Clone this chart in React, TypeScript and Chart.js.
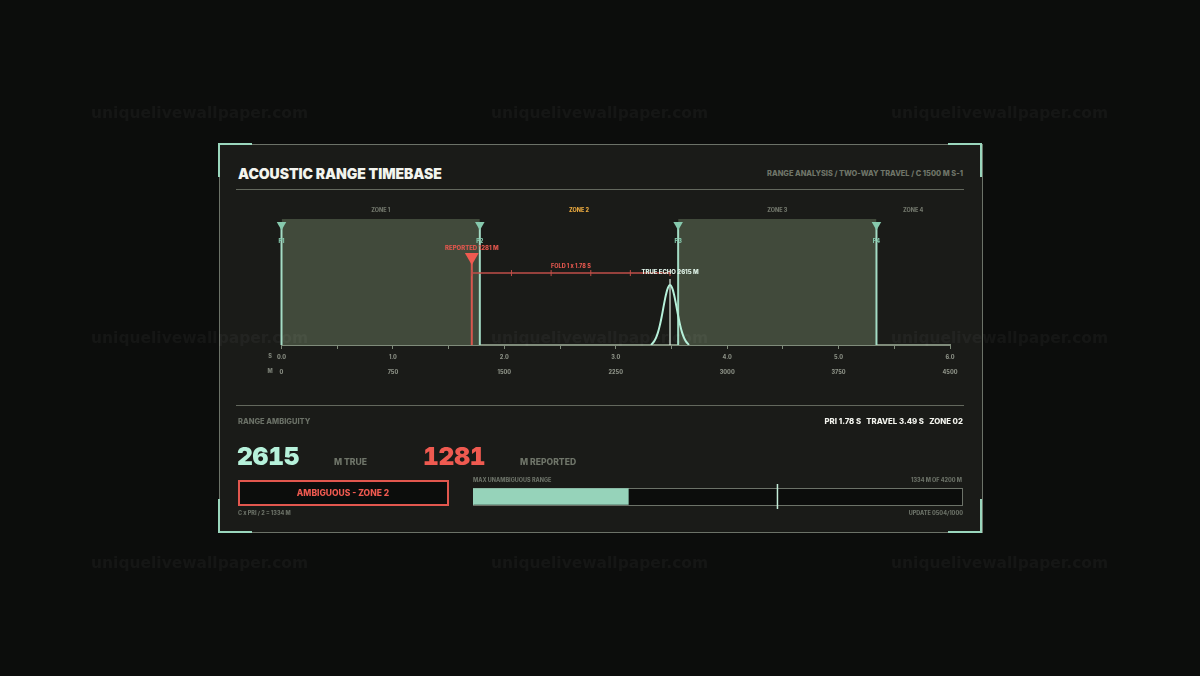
import { CSSProperties, FC, useEffect, useRef } from 'react'
import { Chart, registerables } from 'chart.js'

Chart.register(...registerables)

// seconds on the timebase
const priMarks = [0, 1.78, 3.56, 5.34]
const priLabels = ['P1', 'P2', 'P3', 'P4']
const zoneLabels = ['ZONE 1', 'ZONE 2', 'ZONE 3', 'ZONE 4']
const zoneEdges = [0, 1.78, 3.56, 5.34, 6]
const shadedZone1 = [0, 1.78]
const shadedZone3 = [3.56, 5.34]
const tickSeconds = ['0.0', '1.0', '2.0', '3.0', '4.0', '5.0', '6.0']
const tickMetres = ['0', '750', '1500', '2250', '3000', '3750', '4500']
const reportedTime = 1.708
const trueTime = 3.487
const foldTimes = [1.708, 2.064, 2.42, 2.776, 3.131, 3.487]
const echoTimes = [3.317, 3.344, 3.361, 3.379, 3.397, 3.415, 3.433, 3.451, 3.469, 3.487, 3.505, 3.523, 3.541, 3.559, 3.577, 3.595, 3.613, 3.63, 3.657]
const echoLevels = [0, 0.029, 0.057, 0.1, 0.161, 0.237, 0.322, 0.4, 0.456, 0.476, 0.456, 0.4, 0.322, 0.237, 0.161, 0.1, 0.057, 0.029, 0]

// range meter, metres
const unambiguousRange = 1334
const meterMax = 4200
const trueRange = 2615

const watermarkX = [91, 491, 891]
const watermarkY = [102, 327, 552]

const TEAL = '#9ad6bd'
const MINT = '#b6f1da'
const RED = '#ef5a50'
const FONT = 'Inter, "Noto Sans", sans-serif'

const xy = (xs: number[], ys: number[]) => xs.map((x, i) => ({ x, y: ys[i] }))

const annotations = {
  id: 'annotations',
  afterDatasetsDraw(chart: Chart) {
    const { ctx, scales } = chart
    const x = scales.x
    const put = (text: string, px: number, py: number, size: number, color: string) => {
      ctx.font = `800 ${size}px ${FONT}`
      ctx.fillStyle = color
      ctx.fillText(text, px, py)
    }
    ctx.save()
    ctx.textAlign = 'center'
    ctx.textBaseline = 'middle'
    zoneLabels.forEach((label, i) => {
      const mid = (zoneEdges[i] + zoneEdges[i + 1]) / 2
      put(label, x.getPixelForValue(mid), 210.5, 5.5, i === 1 ? '#e9a93f' : '#70756a')
    })
    priLabels.forEach((label, i) => {
      put(label, x.getPixelForValue(priMarks[i]), 241, 5.5, '#86c9ad')
    })
    put('REPORTED 1281 M', x.getPixelForValue(reportedTime), 248, 6, '#e2574e')
    put('FOLD 1 x 1.78 S', x.getPixelForValue((reportedTime + trueTime) / 2), 266, 5.5, '#e2574e')
    put('TRUE ECHO 2615 M', x.getPixelForValue(trueTime), 272, 6, '#dff3e8')
    put('S', 270, 356, 5.5, '#7d8278')
    put('M', 270, 371, 5.5, '#7d8278')
    ctx.restore()
  },
}

const TimebaseChart: FC = () => {
  const canvas = useRef<HTMLCanvasElement>(null)

  useEffect(() => {
    if (!canvas.current) return
    const priLine = (t: number) => ({
      data: xy([t, t], [0, 0.954]),
      clip: false,
      borderColor: '#a4dcc5',
      borderWidth: 2,
      pointRadius: [0, 5.5],
      pointStyle: 'triangle',
      pointRotation: 180,
      pointBackgroundColor: '#86c9ad',
      pointBorderWidth: 0,
    })
    const chart = new Chart(canvas.current, {
      type: 'line',
      plugins: [annotations],
      data: {
        datasets: [
          {
            data: xy(echoTimes, echoLevels),
            borderColor: MINT,
            borderWidth: 2,
            tension: 0.4,
            pointRadius: 0,
          },
          {
            data: xy([trueTime, trueTime], [0, 0.524]),
            borderColor: '#dfeee4',
            borderWidth: 1.2,
            pointRadius: 0,
          },
          {
            data: xy(foldTimes, foldTimes.map(() => 0.571)),
            borderColor: '#c04f48',
            borderWidth: 1.5,
            pointStyle: 'line',
            pointRotation: 90,
            pointRadius: 3,
            pointBorderColor: '#c04f48',
            pointBorderWidth: 1,
          },
          {
            data: xy([reportedTime, reportedTime], [0, 0.698]),
            borderColor: '#d9574e',
            borderWidth: 2,
            pointRadius: [0, 8],
            pointStyle: 'triangle',
            pointRotation: 180,
            pointBackgroundColor: RED,
            pointBorderWidth: 0,
          },
          ...priMarks.map(priLine),
          {
            data: xy(shadedZone1, [1, 1]),
            borderWidth: 0,
            pointRadius: 0,
            fill: 'origin',
            backgroundColor: '#414a3b',
          },
          {
            data: xy(shadedZone3, [1, 1]),
            borderWidth: 0,
            pointRadius: 0,
            fill: 'origin',
            backgroundColor: '#414a3b',
          },
        ],
      } as any,
      options: {
        animation: false,
        responsive: false,
        layout: { padding: { left: 281.5, right: 250, top: 219, bottom: 291 } },
        plugins: { legend: { display: false }, tooltip: { enabled: false } },
        scales: {
          x: {
            type: 'linear',
            min: 0,
            max: 6,
            border: { color: '#7f8b7a', width: 2 },
            grid: { drawOnChartArea: false, color: '#7f8b7a', tickLength: 4, tickWidth: 1 },
            ticks: {
              stepSize: 0.5,
              autoSkip: false,
              maxRotation: 0,
              padding: 1,
              color: '#8a8f84',
              font: { family: FONT, size: 5.5, weight: 800, lineHeight: 2.7 },
              callback: (value: any) => {
                const i = Number(value)
                return Number.isInteger(i) ? [tickSeconds[i], tickMetres[i]] : ''
              },
            },
            afterFit: (scale: any) => {
              scale.height = 40
              scale.paddingLeft = 0
              scale.paddingRight = 0
            },
          },
          y: { type: 'linear', display: false, min: 0, max: 1 },
        },
      } as any,
    })
    return () => {
      chart.destroy()
    }
  }, [])

  return <canvas ref={canvas} width={1200} height={676} style={{ position: 'absolute', left: 0, top: 0 }} />
}

const RangeMeter: FC = () => {
  const canvas = useRef<HTMLCanvasElement>(null)

  useEffect(() => {
    if (!canvas.current) return
    const chart = new Chart(canvas.current, {
      type: 'bar',
      data: {
        labels: ['range'],
        datasets: [
          {
            type: 'scatter',
            data: xy([trueRange, trueRange], [0, 1]),
            yAxisID: 'mark',
            showLine: true,
            borderColor: '#c4ecd9',
            borderWidth: 1.5,
            pointRadius: 0,
          },
          {
            type: 'bar',
            indexAxis: 'y',
            data: [unambiguousRange],
            backgroundColor: '#96d3ba',
            barThickness: 16,
          },
        ],
      } as any,
      options: {
        animation: false,
        responsive: false,
        plugins: { legend: { display: false }, tooltip: { enabled: false } },
        scales: {
          x: { type: 'linear', display: false, offset: false, min: 0, max: meterMax },
          y: { type: 'category', display: false, offset: true },
          mark: { type: 'linear', display: false, min: 0, max: 1 },
        },
      } as any,
    })
    return () => {
      chart.destroy()
    }
  }, [])

  return <canvas ref={canvas} width={489} height={25} style={{ position: 'absolute', left: 473, top: 484 }} />
}

interface TextProps {
  x?: number
  right?: number
  y: number
  size: number
  color: string
  weight?: number
  spacing?: number
  tabular?: boolean
  children: string
}

// y is the vertical middle of the line
const Text: FC<TextProps> = ({ x, right, y, size, color, weight = 800, spacing = 0, tabular, children }) => (
  <div
    style={{
      position: 'absolute',
      left: x,
      right: right !== undefined ? 1200 - right : undefined,
      top: y - size,
      height: size * 2,
      lineHeight: `${size * 2}px`,
      fontSize: size,
      fontWeight: weight,
      letterSpacing: spacing,
      fontVariantNumeric: tabular ? 'tabular-nums' : undefined,
      color,
      whiteSpace: 'pre',
    }}
  >
    {children}
  </div>
)

const box = (left: number, top: number, width: number, height: number, rest: CSSProperties): CSSProperties => ({
  position: 'absolute',
  left,
  top,
  width,
  height,
  boxSizing: 'border-box',
  ...rest,
})

const App: FC = () => {
  useEffect(() => {
    document.body.style.margin = '0'
    document.body.style.background = '#0c0d0c'
  }, [])

  const corner = '2px solid ' + TEAL

  return (
    <div style={{ position: 'relative', width: 1200, height: 676, overflow: 'hidden', background: '#0c0d0c', fontFamily: FONT }}>
      <div style={box(218.5, 143.5, 764, 389.5, { background: '#1a1b18', border: '1.5px solid #6c7268' })} />
      <div style={box(218, 143, 34, 34, { borderTop: corner, borderLeft: corner })} />
      <div style={box(948, 143, 34, 34, { borderTop: corner, borderRight: corner })} />
      <div style={box(218, 499, 34, 34, { borderBottom: corner, borderLeft: corner })} />
      <div style={box(948, 499, 34, 34, { borderBottom: corner, borderRight: corner })} />

      <Text x={238} y={173.5} size={14} color="#f3f4ee" weight={900} spacing={-0.05}>ACOUSTIC RANGE TIMEBASE</Text>
      <Text right={963} y={174.5} size={7.4} color="#6f7569">RANGE ANALYSIS / TWO-WAY TRAVEL / C 1500 M S-1</Text>
      <div style={box(236, 188.5, 728, 1.5, { background: '#63685d' })} />

      <TimebaseChart />

      <div style={box(236, 404.5, 728, 1.5, { background: '#63685d' })} />
      <Text x={238} y={421.5} size={7.5} color="#6a7066">RANGE AMBIGUITY</Text>
      <Text right={963} y={421.5} size={7.8} color="#f3f4ee" weight={800}>{'PRI 1.78 S   TRAVEL 3.49 S   ZONE 02'}</Text>

      <Text x={237} y={456.5} size={24.5} color={MINT} weight={900} spacing={-0.2} tabular>2615</Text>
      <Text x={334} y={462.5} size={8.6} color="#6f7569">M TRUE</Text>
      <Text x={423} y={456.5} size={24.5} color={RED} weight={900} spacing={-0.2} tabular>1281</Text>
      <Text x={520} y={462.5} size={8.6} color="#6f7569">M REPORTED</Text>

      <div style={box(237.5, 479.5, 211, 26, { background: '#0c0d0c', border: '2px solid #e2574e' })} />
      <div style={{ position: 'absolute', left: 237.5, width: 211, top: 487, textAlign: 'center', fontSize: 8.5, lineHeight: '12px', fontWeight: 800, color: RED }}>AMBIGUOUS - ZONE 2</div>
      <Text x={238} y={513} size={5.5} color="#6a7066">C x PRI / 2 = 1334 M</Text>

      <Text x={473} y={480} size={5.5} color="#6a7066">MAX UNAMBIGUOUS RANGE</Text>
      <Text right={962} y={480} size={5.5} color="#6a7066">1334 M OF 4200 M</Text>
      <div style={box(472.5, 487.5, 490, 18, { background: '#0c0d0c', border: '1px solid #6c7268' })} />
      <RangeMeter />
      <Text right={963} y={513} size={5.5} color="#6a7066">UPDATE 0504/1000</Text>

      {watermarkY.map(y =>
        watermarkX.map(x => (
          <div
            key={`${x}-${y}`}
            style={{ position: 'absolute', left: x, top: y, fontFamily: '"DejaVu Sans"', fontWeight: 700, fontSize: 15.5, lineHeight: '22px', color: 'rgba(255,255,255,0.04)', pointerEvents: 'none' }}
          >
            uniquelivewallpaper.com
          </div>
        )),
      )}
    </div>
  )
}

export default App
